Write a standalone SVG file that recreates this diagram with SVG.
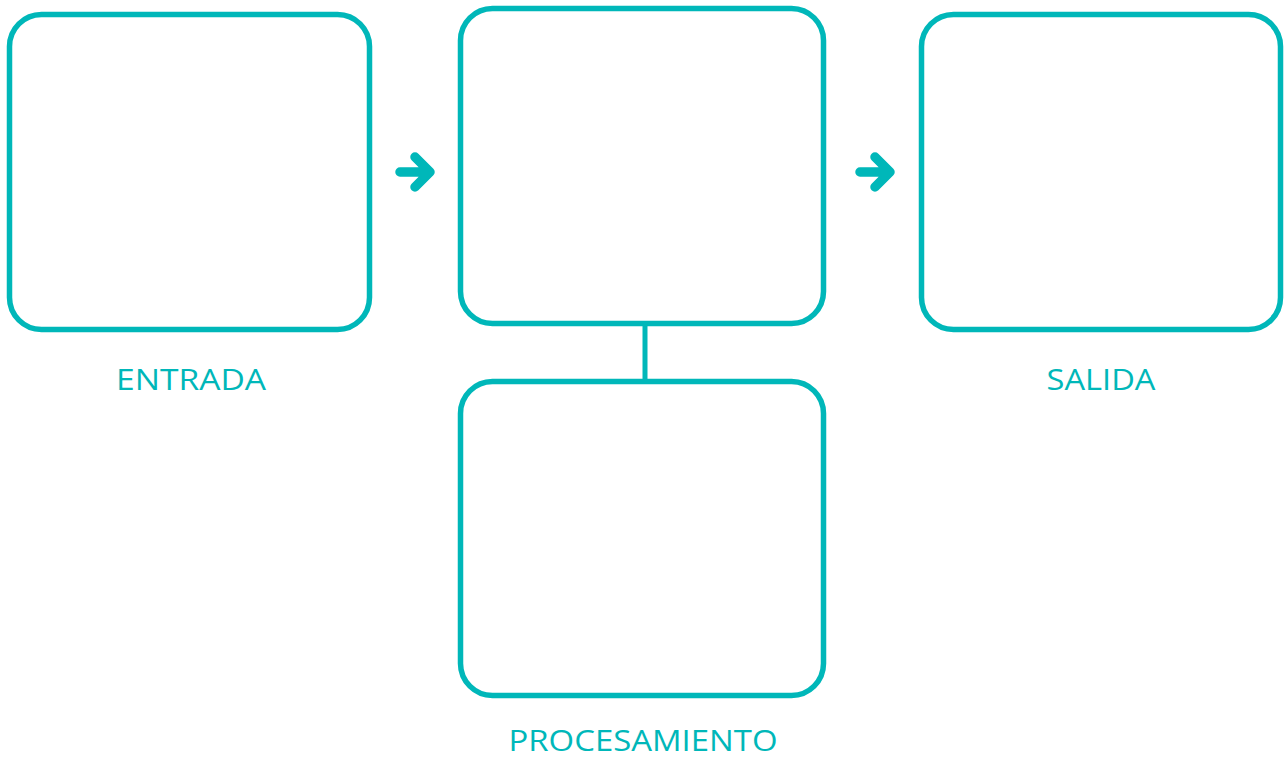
<svg xmlns="http://www.w3.org/2000/svg" width="1287" height="758" viewBox="0 0 1287 758">
<style>
.box{fill:#fff;stroke:#00B7B9;stroke-width:5.5}
.lbl{font-family:"Open Sans","Noto Sans",sans-serif;font-size:29px;fill:#00B7B9;text-anchor:middle}
.arr{fill:none;stroke:#00B7B9;stroke-width:9.5;stroke-linecap:round;stroke-linejoin:round}
.ln{stroke:#00B7B9;stroke-width:5}
</style>
<rect width="1287" height="758" fill="#fff"/>
<g id="connectors">
<line class="ln" x1="645" y1="323" x2="645" y2="381"/>
<g id="arrow1"><path class="arr" d="M400 172H430M415 157L430 172L415 187"/></g>
<g id="arrow2"><path class="arr" d="M860 172H890M875 157L890 172L875 187"/></g>
</g>
<g id="entrada"><rect class="box" x="9.5" y="14.5" width="360" height="315" rx="32"/><text class="lbl" x="191" y="390" textLength="150" lengthAdjust="spacingAndGlyphs">ENTRADA</text></g>
<g id="proceso"><rect class="box" x="460.5" y="8.5" width="363" height="315" rx="32"/></g>
<g id="procesamiento"><rect class="box" x="460.5" y="381.5" width="363" height="314" rx="32"/><text class="lbl" x="643" y="751" textLength="269" lengthAdjust="spacingAndGlyphs">PROCESAMIENTO</text></g>
<g id="salida"><rect class="box" x="921.5" y="14.5" width="359" height="315" rx="32"/><text class="lbl" x="1101" y="390" textLength="109" lengthAdjust="spacingAndGlyphs">SALIDA</text></g>
</svg>
